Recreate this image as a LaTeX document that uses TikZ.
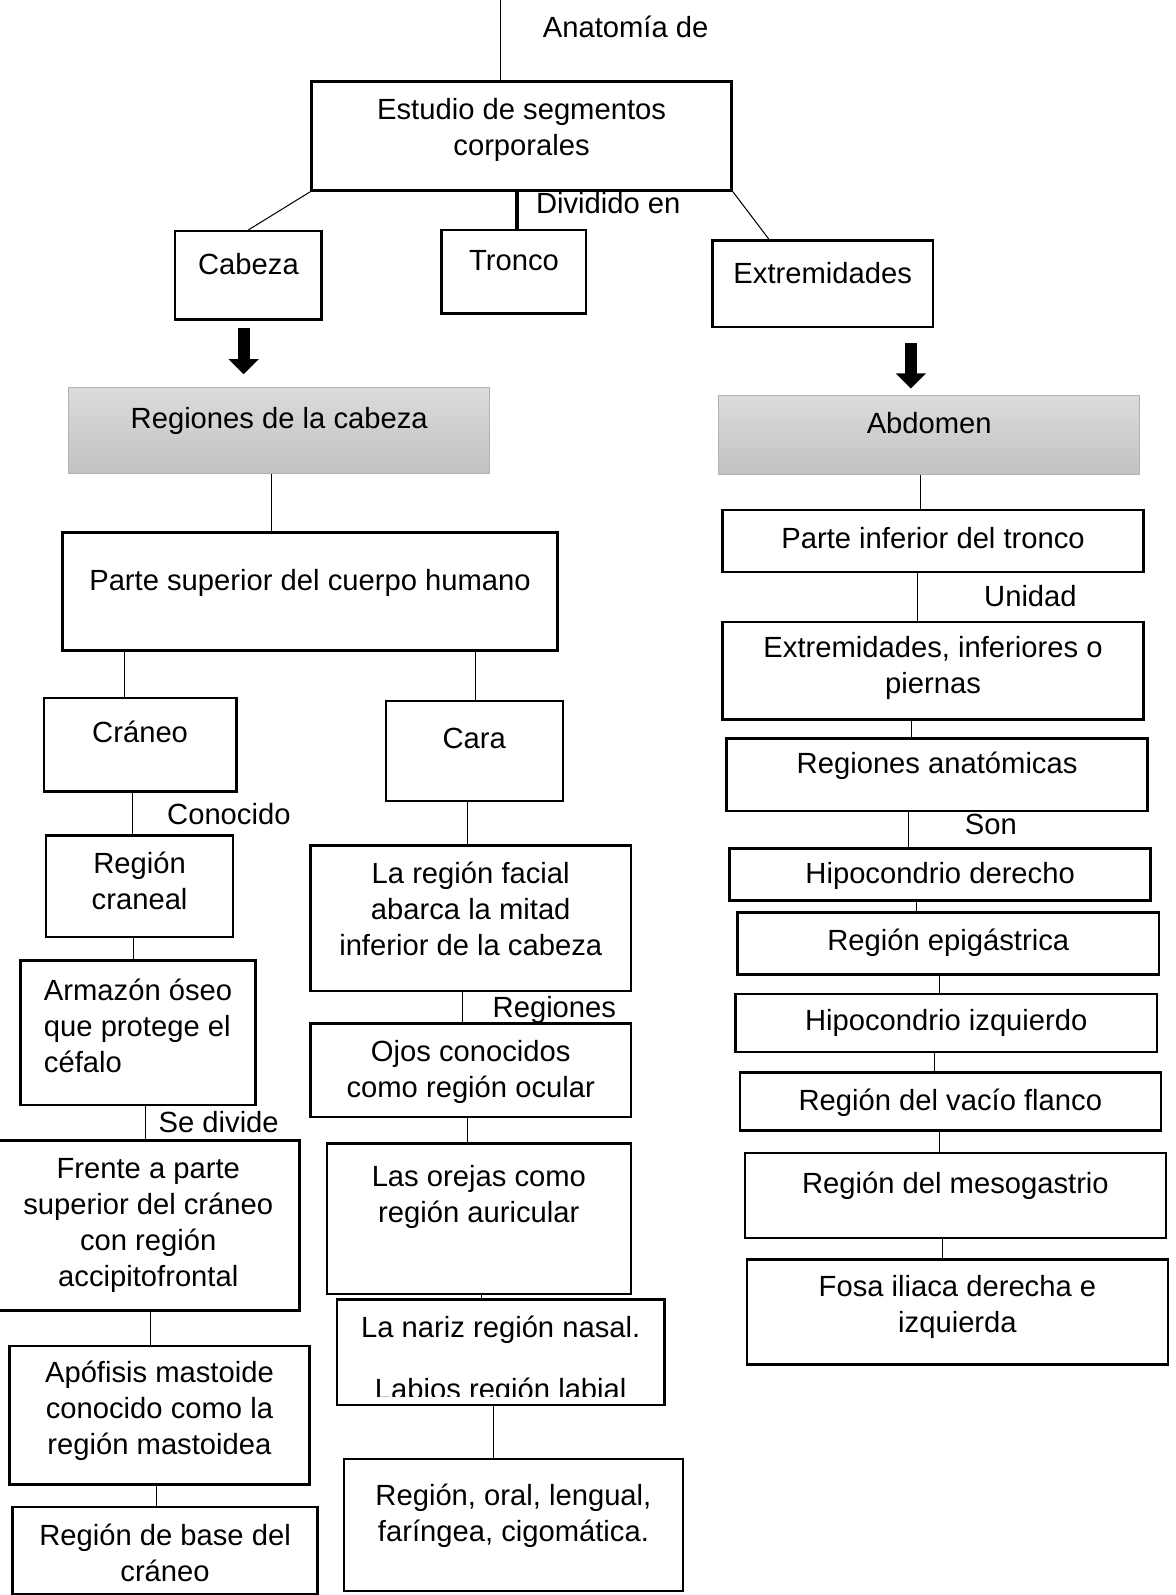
\documentclass[tikz,border=0pt]{standalone}
\usepackage{fontspec}
\setmainfont{Liberation Sans}
\usetikzlibrary{arrows.meta}

\begin{document}
\begin{tikzpicture}[x=1pt, y=1pt, font=\fontsize{28.7}{35.5}\selectfont,
        box/.style={draw, line width=2.5pt, inner sep=0pt, anchor=north west, align=center},
        graybox/.style={box, line width=1pt, draw=gray!60, top color=gray!28, bottom color=gray!48},
        lbl/.style={anchor=base, inner sep=0pt},
        link/.style={line width=1pt},
        bigarrow/.style={line width=12pt, -{Triangle[width=29pt, length=15pt]}}]
                \useasboundingbox (0,0) rectangle (1156,-1568);

                \node[lbl] (anatomia) at (615,-37) {Anatomía de};
                \node[box, minimum width=413pt, text height=72.5pt, text depth=34.5pt] (estudio) at (305,-79) {Estudio de segmentos\\corporales};
                \node[lbl] (dividido) at (598,-210) {Dividido en};
                \node[box, minimum width=144pt, text height=43pt, text depth=44pt] (cabeza) at (171,-226) {Cabeza};
                \node[box, minimum width=142pt, text height=40pt, text depth=42pt] (tronco) at (433,-225) {Tronco};
                \node[box, minimum width=217pt, text height=42pt, text depth=43pt] (extrem) at (699,-235) {Extremidades};

                \node[graybox, minimum width=414pt, text height=41pt, text depth=44pt] (regcab) at (67,-380) {Regiones de la cabeza};
                \node[graybox, minimum width=414pt, text height=38pt, text depth=40pt] (abdomen) at (706,-388) {Abdomen};

                % cabeza
                \node[box, minimum width=487pt, text height=57pt, text depth=59pt] (supcuerpo) at (60,-522) {Parte superior del cuerpo humano};
                \node[box, minimum width=189pt, text height=44pt, text depth=48pt] (craneo) at (42,-685) {Cráneo};
                \node[box, minimum width=174pt, text height=47pt, text depth=51pt] (cara) at (378,-688) {Cara};
                \node[lbl] (conocido) at (225,-811) {Conocido};
                \node[box, minimum width=184pt, text height=72.5pt, text depth=27.5pt] (regcran) at (44,-820) {Región\\craneal};
                \node[box, align=left, minimum width=231pt, text height=110pt, text depth=32pt] (armazon) at (19,-943) {Armazón óseo\\que protege el\\céfalo};
                \node[lbl] (sedivide) at (215,-1113) {Se divide};
                \node[box, minimum width=297pt, text height=143.5pt, text depth=23.5pt] (frente) at (-4,-1120) {Frente a parte\\superior del cráneo\\con región\\accipitofrontal};
                \node[box, minimum width=295pt, text height=107pt, text depth=29pt] (apofisis) at (8,-1322) {Apófisis mastoide\\conocido como la\\región mastoidea};
                \node[box, minimum width=300pt, text height=73.5pt, text depth=12.5pt] (basecran) at (11,-1480) {Región de base del\\cráneo};

                \node[box, minimum width=315pt, text height=108pt, text depth=35pt] (facial) at (304,-830) {La región facial\\abarca la mitad\\inferior de la cabeza};
                \node[lbl] (regiones) at (545,-1000) {Regiones};
                \node[box, minimum width=315pt, text height=72.5pt, text depth=19.5pt] (ojos) at (304,-1005) {Ojos conocidos\\como región ocular};
                \node[box, minimum width=299pt, text height=77.5pt, text depth=70.5pt] (orejas) at (320,-1123) {Las orejas como\\región auricular};
                \node[box, minimum width=322pt, text height=38pt, text depth=66pt] (nariz) at (330,-1276) {La nariz región nasal.};
                \begin{scope}
                    \clip ([yshift=10pt]nariz.south west) rectangle (nariz.north east);
                    \node[lbl] (labios) at ([yshift=7pt]nariz.south) {Labios región labial};
                \end{scope}
                \node[box, minimum width=333pt, text height=81.5pt, text depth=48.5pt] (oral) at (337,-1433) {Región, oral, lengual,\\faríngea, cigomática.};

                % abdomen
                \node[box, minimum width=414pt, text height=38pt, text depth=23pt] (inferior) at (709,-500) {Parte inferior del tronco};
                \node[lbl] (unidad) at (1013,-596) {Unidad};
                \node[box, minimum width=414pt, text height=70.5pt, text depth=25.5pt] (extinf) at (709,-610) {Extremidades, inferiores o\\piernas};
                \node[box, minimum width=414pt, text height=34pt, text depth=37pt] (anatom) at (713,-725) {Regiones anatómicas};
                \node[lbl] (son) at (974,-820) {Son};
                \node[box, minimum width=414pt, text height=34pt, text depth=17pt] (hipder) at (716,-833) {Hipocondrio derecho};
                \node[box, minimum width=414pt, text height=37pt, text depth=24pt] (epig) at (724,-896) {Región epigástrica};
                \node[box, minimum width=414pt, text height=36pt, text depth=21pt] (hipizq) at (722,-976) {Hipocondrio izquierdo};
                \node[box, minimum width=414pt, text height=37pt, text depth=20pt] (flanco) at (726,-1053) {Región del vacío flanco};
                \node[box, minimum width=414pt, text height=40pt, text depth=44pt] (meso) at (731,-1132) {Región del mesogastrio};
                \node[box, minimum width=414pt, text height=71.5pt, text depth=31.5pt] (fosa) at (733,-1237) {Fosa iliaca derecha e\\izquierda};

                \coordinate (top) at (492,0);
                \draw[link] (top) -- (top |- estudio.north);
                \draw[link] (estudio.south west) -- (cabeza.north);
                \draw[line width=3.5pt] ([xshift=3pt]tronco.north) -- ([xshift=3pt]tronco.north |- estudio.south);
                \draw[link] (estudio.south east) -- ([xshift=-53pt]extrem.north);

                \draw[bigarrow] ([xshift=-35pt]regcab.north) ++(0,58pt) -- ++(0,-46pt);
                \draw[bigarrow] ([xshift=-18pt]abdomen.north) ++(0,51pt) -- ++(0,-45pt);

                \draw[link] ([xshift=-37.5pt]supcuerpo.north) -- ([xshift=-37.5pt]supcuerpo.north |- regcab.south);
                \draw[link] ([xshift=-15.5pt]craneo.north) -- ([xshift=-15.5pt]craneo.north |- supcuerpo.south);
                \draw[link] ([xshift=1pt]cara.north) -- ([xshift=1pt]cara.north |- supcuerpo.south);
                \draw[link] ([xshift=-7pt]regcran.north) -- ([xshift=-7pt]regcran.north |- craneo.south);
                \draw[link] ([xshift=-4.5pt]armazon.north) -- ([xshift=-4.5pt]armazon.north |- regcran.south);
                \draw[link] ([xshift=-2.5pt]frente.north) -- ([xshift=-2.5pt]frente.north |- armazon.south);
                \draw[link] ([xshift=-8.5pt]apofisis.north) -- ([xshift=-8.5pt]apofisis.north |- frente.south);
                \draw[link] ([xshift=-8pt]basecran.north) -- ([xshift=-8pt]basecran.north |- apofisis.south);
                \draw[link] ([xshift=-3.5pt]facial.north) -- ([xshift=-3.5pt]facial.north |- cara.south);
                \draw[link] ([xshift=-8.5pt]ojos.north) -- ([xshift=-8.5pt]ojos.north |- facial.south);
                \draw[link] ([xshift=-11.5pt]orejas.north) -- ([xshift=-11.5pt]orejas.north |- ojos.south);
                \draw[link] ([xshift=-19pt]nariz.north) -- ([xshift=-19pt]nariz.north |- orejas.south);
                \draw[link] ([xshift=-19.5pt]oral.north) -- ([xshift=-19.5pt]oral.north |- nariz.south);

                \draw[link] ([xshift=-12pt]inferior.north) -- ([xshift=-12pt]inferior.north |- abdomen.south);
                \draw[link] ([xshift=-15pt]extinf.north) -- ([xshift=-15pt]extinf.north |- inferior.south);
                \draw[link] ([xshift=-25pt]anatom.north) -- ([xshift=-25pt]anatom.north |- extinf.south);
                \draw[link] ([xshift=-31pt]hipder.north) -- ([xshift=-31pt]hipder.north |- anatom.south);
                \draw[link] ([xshift=-31pt]epig.north) -- ([xshift=-31pt]epig.north |- hipder.south);
                \draw[link] ([xshift=-7pt]hipizq.north) -- ([xshift=-7pt]hipizq.north |- epig.south);
                \draw[link] ([xshift=-16pt]flanco.north) -- ([xshift=-16pt]flanco.north |- hipizq.south);
                \draw[link] ([xshift=-16pt]meso.north) -- ([xshift=-16pt]meso.north |- flanco.south);
                \draw[link] ([xshift=-15pt]fosa.north) -- ([xshift=-15pt]fosa.north |- meso.south);

            \end{tikzpicture}
\end{document}
